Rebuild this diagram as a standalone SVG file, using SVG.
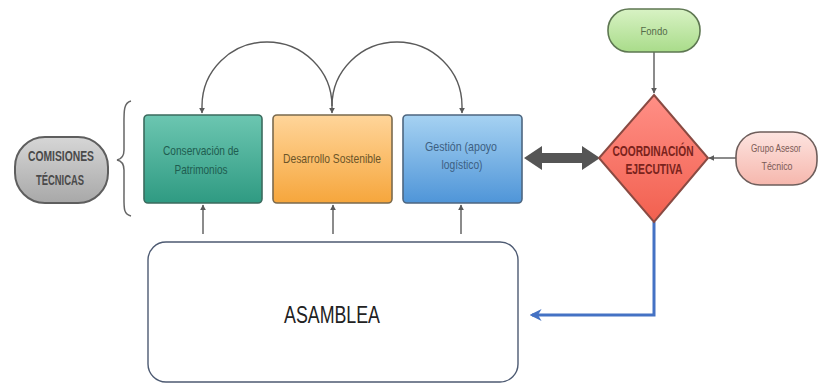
<svg xmlns="http://www.w3.org/2000/svg" width="818" height="383" viewBox="0 0 818 383">
  <defs>
    <style>
      .lbl { font-family: "Liberation Sans", Arial, sans-serif; text-anchor: middle; }
      .box { stroke-width: 1.6; }
      .thin { fill: none; stroke: #5a5a5a; stroke-width: 1.4; }
    </style>
    <linearGradient id="gGray" x1="0" y1="0" x2="0" y2="1">
      <stop offset="0" stop-color="#d6d6d6"/>
      <stop offset="1" stop-color="#a8a8a8"/>
    </linearGradient>
    <linearGradient id="gTeal" x1="0" y1="0" x2="0" y2="1">
      <stop offset="0" stop-color="#6cc6b1"/>
      <stop offset="1" stop-color="#2f9a82"/>
    </linearGradient>
    <linearGradient id="gOrange" x1="0" y1="0" x2="0" y2="1">
      <stop offset="0" stop-color="#ffd59a"/>
      <stop offset="1" stop-color="#f6a63c"/>
    </linearGradient>
    <linearGradient id="gBlue" x1="0" y1="0" x2="0" y2="1">
      <stop offset="0" stop-color="#a6d2f2"/>
      <stop offset="1" stop-color="#4f95d8"/>
    </linearGradient>
    <linearGradient id="gRed" x1="0" y1="0" x2="0" y2="1">
      <stop offset="0" stop-color="#ff8f86"/>
      <stop offset="1" stop-color="#f2604f"/>
    </linearGradient>
    <linearGradient id="gGreen" x1="0" y1="0" x2="0" y2="1">
      <stop offset="0" stop-color="#d8f2c4"/>
      <stop offset="1" stop-color="#a9dc8a"/>
    </linearGradient>
    <linearGradient id="gPink" x1="0" y1="0" x2="0" y2="1">
      <stop offset="0" stop-color="#fde4e0"/>
      <stop offset="1" stop-color="#f6b7ad"/>
    </linearGradient>
    <marker id="ah" viewBox="0 0 10 10" refX="9" refY="5" markerWidth="6" markerHeight="8" orient="auto-start-reverse" markerUnits="userSpaceOnUse">
      <path d="M0,0 L10,5 L0,10 z" fill="#5a5a5a"/>
    </marker>
    <marker id="ahBlue" viewBox="0 0 10 10" refX="8" refY="5" markerWidth="12" markerHeight="12" orient="auto" markerUnits="userSpaceOnUse">
      <path d="M0,0 L10,5 L0,10 L3,5 z" fill="#4472c4"/>
    </marker>
  </defs>

  <rect width="818" height="383" fill="#ffffff"/>

  <!-- connectors -->
  <g id="connectors">
    <!-- arcs over the committees -->
    <path class="thin" d="M202,113 L202,106 A65,64 0 0 1 332,106 L332,113" marker-start="url(#ah)" marker-end="url(#ah)"/>
    <path class="thin" d="M332,106 A65,64 0 0 1 462,106 L462,113" marker-end="url(#ah)"/>
    <!-- from the assembly up to each committee -->
    <line class="thin" x1="203" y1="234" x2="203" y2="205" marker-end="url(#ah)"/>
    <line class="thin" x1="333" y1="234" x2="333" y2="205" marker-end="url(#ah)"/>
    <line class="thin" x1="461" y1="234" x2="461" y2="205" marker-end="url(#ah)"/>
    <!-- Fondo to coordination -->
    <line class="thin" x1="654" y1="52" x2="654" y2="93" marker-end="url(#ah)"/>
    <!-- advisory group to coordination -->
    <line class="thin" x1="736" y1="158" x2="709" y2="158" marker-end="url(#ah)"/>
    <!-- thick two-way arrow -->
    <path d="M524,158 L542,146 L542,153 L582,153 L582,146 L600,158 L582,170 L582,163 L542,163 L542,170 z" fill="#555555"/>
    <!-- coordination down to the assembly -->
    <polyline points="654,222 654,315 532,315" fill="none" stroke="#4472c4" stroke-width="3" marker-end="url(#ahBlue)"/>
  </g>

  <g id="comisiones">
    <rect x="15" y="137" width="93" height="66" rx="30" ry="30" fill="url(#gGray)" stroke="#5e5e5e" stroke-width="2"/>
    <text class="lbl" x="61" y="161" font-size="14" font-weight="bold" fill="#4a4a4a" textLength="66" lengthAdjust="spacingAndGlyphs">COMISIONES</text>
    <text class="lbl" x="60" y="185" font-size="14" font-weight="bold" fill="#4a4a4a" textLength="48" lengthAdjust="spacingAndGlyphs">TÉCNICAS</text>
  </g>

  <g id="brace">
    <path d="M131,101 C123,103 124,112 124,130 L124,150 C124,156 122,159 117,160 C122,161 124,164 124,170 L124,192 C124,208 123,214 131,216" fill="none" stroke="#666666" stroke-width="1.5"/>
  </g>

  <g id="conservacion">
    <rect class="box" x="144" y="115" width="118" height="88" rx="4" fill="url(#gTeal)" stroke="#3b6b5e"/>
    <text class="lbl" x="201" y="155" font-size="13" fill="#1f5d50" textLength="76" lengthAdjust="spacingAndGlyphs">Conservación de</text>
    <text class="lbl" x="201" y="174" font-size="13" fill="#1f5d50" textLength="53" lengthAdjust="spacingAndGlyphs">Patrimonios</text>
  </g>

  <g id="desarrollo">
    <rect class="box" x="273" y="115" width="119" height="88" rx="4" fill="url(#gOrange)" stroke="#7a6a4e"/>
    <text class="lbl" x="332" y="163" font-size="13" fill="#6b5528" textLength="98" lengthAdjust="spacingAndGlyphs">Desarrollo Sostenible</text>
  </g>

  <g id="gestion">
    <rect class="box" x="403" y="115" width="119" height="88" rx="4" fill="url(#gBlue)" stroke="#4d6680"/>
    <text class="lbl" x="461" y="151" font-size="13" fill="#3d5f82" textLength="72" lengthAdjust="spacingAndGlyphs">Gestión (apoyo</text>
    <text class="lbl" x="462" y="169" font-size="13" fill="#3d5f82" textLength="41" lengthAdjust="spacingAndGlyphs">logístico)</text>
  </g>

  <g id="coordinacion">
    <polygon points="654,95 708,158 654,222 599,158" fill="url(#gRed)" stroke="#8a4a42" stroke-width="2"/>
    <text class="lbl" x="653" y="156" font-size="14" font-weight="bold" fill="#7a231c" textLength="81" lengthAdjust="spacingAndGlyphs">COORDINACIÓN</text>
    <text class="lbl" x="654" y="174" font-size="14" font-weight="bold" fill="#7a231c" textLength="57" lengthAdjust="spacingAndGlyphs">EJECUTIVA</text>
  </g>

  <g id="fondo">
    <rect x="608" y="9" width="92" height="43" rx="21" ry="21" fill="url(#gGreen)" stroke="#5e7752" stroke-width="1.6"/>
    <text class="lbl" x="654" y="35" font-size="11" fill="#556b4a" textLength="27" lengthAdjust="spacingAndGlyphs">Fondo</text>
  </g>

  <g id="grupo-asesor">
    <rect x="736" y="132" width="81" height="53" rx="24" ry="24" fill="url(#gPink)" stroke="#6e5e5b" stroke-width="1.6"/>
    <text class="lbl" x="776" y="152" font-size="10.5" fill="#7a5a56" textLength="50" lengthAdjust="spacingAndGlyphs">Grupo Asesor</text>
    <text class="lbl" x="777" y="170" font-size="10.5" fill="#7a5a56" textLength="31" lengthAdjust="spacingAndGlyphs">Técnico</text>
  </g>

  <g id="asamblea">
    <rect x="148" y="242" width="370" height="140" rx="18" ry="18" fill="#ffffff" stroke="#4d5a72" stroke-width="1.4"/>
    <text class="lbl" x="332" y="323" font-size="24" fill="#222222" textLength="96" lengthAdjust="spacingAndGlyphs">ASAMBLEA</text>
  </g>
</svg>
